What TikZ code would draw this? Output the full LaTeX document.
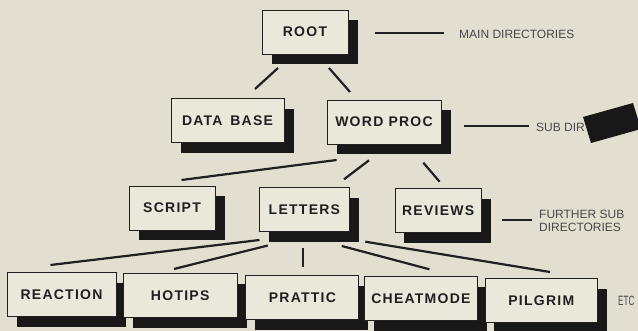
\documentclass[tikz,border=0pt]{standalone}
\usepackage{fontspec}
\usepackage{graphicx}
\setmainfont{Liberation Sans}
\newfontfamily\boxfont[LetterSpace=9]{Liberation Sans}
\usetikzlibrary{shadows}
\definecolor{paper}{RGB}{226,222,208}
\definecolor{boxfill}{RGB}{234,231,219}
\definecolor{ink}{RGB}{32,32,32}
\definecolor{labelink}{RGB}{72,72,72}
\definecolor{shadowblack}{RGB}{24,24,24}
\begin{document}
\begin{tikzpicture}[x=1pt,y=-1pt,
  dirbox/.style={draw=ink, line width=0.9pt, fill=boxfill, text=ink, inner sep=0pt,
    minimum height=44pt,
    font={\fontsize{14}{16}\selectfont\boxfont\bfseries},
    drop shadow={shadow xshift=9.5pt, shadow yshift=-10.5pt, fill=shadowblack, opacity=1}},
  link/.style={draw=ink, line width=2.2pt},
  tick/.style={draw=ink, line width=1.5pt},
  note/.style={text=labelink, font={\fontsize{12}{13.5}\selectfont}, inner sep=0pt,
    anchor=west, align=left}]
\fill[paper] (0,0) rectangle (638,331);
\useasboundingbox (0,0) rectangle (638,331);
\clip (0,0) rectangle (638,331);

% level 1
\node[dirbox, minimum width=86pt] (root) at (305,32) {ROOT};
% level 2
\node[dirbox, minimum width=113pt] (db) at (227.5,120.5) {DATA\hspace{0.55em}BASE};
\node[dirbox, minimum width=114pt] (wp) at (384,122) {WORD PROC};
% level 3
\node[dirbox, minimum width=86pt] (script) at (172,208) {SCRIPT};
\node[dirbox, minimum width=90pt] (letters) at (304.4,209.5) {LETTERS};
\node[dirbox, minimum width=86.5pt] (reviews) at (438.2,210.8) {REVIEWS};
% level 4
\node[dirbox, minimum width=109pt] (reaction) at (61.5,294.8) {REACTION};
\node[dirbox, minimum width=113.7pt] (hotips) at (180.2,295.9) {HOTIPS};
\node[dirbox, minimum width=113pt] (prattic) at (302.4,297.7) {PRATTIC};
\node[dirbox, minimum width=113pt] (cheat) at (420.9,298.9) {CHEATMODE};
\node[dirbox, minimum width=112.7pt] (pilgrim) at (541.3,300.9) {PILGRIM};

% connector end points (the lines float free of the boxes)
\coordinate (rA) at (278,68);   \coordinate (dbA) at (255,89);
\coordinate (rB) at (329,68);   \coordinate (wpA) at (350,92);
\coordinate (wS) at (336.6,160); \coordinate (sA) at (181.5,180);
\coordinate (wL) at (369,160.3); \coordinate (lA) at (344,179.3);
\coordinate (wR) at (423.3,162.7); \coordinate (rvA) at (439.6,181.7);
\coordinate (l1) at (259.5,240); \coordinate (reA) at (50.5,265);
\coordinate (l2) at (267.8,245.5); \coordinate (hoA) at (174,269);
\coordinate (l3) at (303.2,248.5); \coordinate (prA) at (303.2,267.3);
\coordinate (l4) at (341.8,246); \coordinate (chA) at (429.4,269.3);
\coordinate (l5) at (365.3,241.7); \coordinate (piA) at (550,272);

\draw[link] (rA) -- (dbA);
\draw[link] (rB) -- (wpA);
\draw[link] (wS) -- (sA);
\draw[link] (wL) -- (lA);
\draw[link] (wR) -- (rvA);
\draw[link] (l1) -- (reA);
\draw[link] (l2) -- (hoA);
\draw[link] (l3) -- (prA);
\draw[link] (l4) -- (chA);
\draw[link] (l5) -- (piA);

% side labels
\node[note] (mainlbl) at (459,34.5) {MAIN DIRECTORIES};
\coordinate (m1) at (375,33); \coordinate (m2) at (444,33);
\draw[tick] (m1) -- (m2);

\node[note] (sublbl) at (536,127) {SUB DIR};
\coordinate (s1) at (464,126); \coordinate (s2) at (529,126);
\draw[tick] (s1) -- (s2);

\node[note] (furtherlbl) at (539,221) {FURTHER SUB\\DIRECTORIES};
\coordinate (f1) at (502,220); \coordinate (f2) at (532,220);
\draw[tick] (f1) -- (f2);

\node[note, font={\fontsize{13.5}{14}\selectfont}] (etclbl) at (618,301) {\scalebox{0.6}[1]{ETC}};

% black patch covering part of the sub-directory label
\fill[shadowblack] (583,117) -- (633,103) -- (641,129) -- (591,143) -- cycle;
\end{tikzpicture}
\end{document}
